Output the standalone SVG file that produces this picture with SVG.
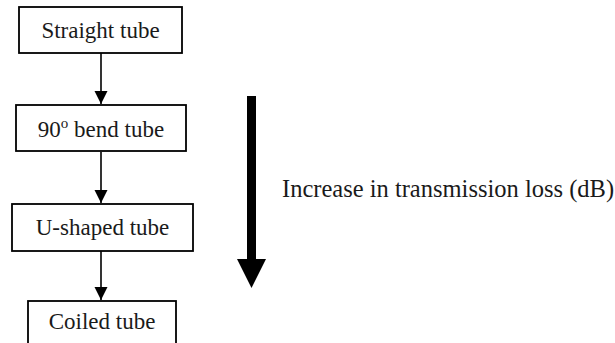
<svg xmlns="http://www.w3.org/2000/svg" width="615" height="343" viewBox="0 0 615 343">
  <style>
    .box { fill: #ffffff; stroke: #000000; stroke-width: 1.8; }
    .label { font-size: 23px; fill: #1a1a1a; text-anchor: middle; }
    .side { font-size: 24.5px; fill: #1a1a1a; }
    .link { stroke: #000000; stroke-width: 1.6; fill: none; marker-end: url(#head); }
  </style>
  <defs>
    <marker id="head" viewBox="0 0 13 15" refX="13" refY="6.5" markerWidth="13" markerHeight="15" markerUnits="userSpaceOnUse" orient="auto">
      <path d="M0,0 L13,6.5 L0,13 Z" fill="#000000"/>
    </marker>
  </defs>
  <rect width="615" height="343" fill="#ffffff"/>

  <g id="connectors">
    <line class="link" x1="101" y1="53" x2="101" y2="104"/>
    <line class="link" x1="101" y1="152" x2="101" y2="203"/>
    <line class="link" x1="101" y1="251" x2="101" y2="300"/>
  </g>

  <g font-family="DejaVu Serif, serif">
    <g id="straight-tube">
      <rect class="box" x="19" y="7" width="163" height="46"/>
      <text class="label" x="100.5" y="38" font-family="Liberation Serif, DejaVu Serif, serif">Straight tube</text>
    </g>

    <g id="bend-tube">
      <rect class="box" x="16" y="105" width="170" height="46"/>
      <text class="label" x="101" y="137" font-family="Liberation Serif, DejaVu Serif, serif">90<tspan font-size="15" dy="-9">o</tspan><tspan dy="9"> bend tube</tspan></text>
    </g>

    <g id="u-shaped-tube">
      <rect class="box" x="12" y="204" width="181" height="47"/>
      <text class="label" x="102.5" y="235" font-family="Liberation Serif, DejaVu Serif, serif">U-shaped tube</text>
    </g>

    <g id="coiled-tube">
      <rect class="box" x="28" y="301" width="148" height="50"/>
      <text class="label" x="102" y="329" font-family="Liberation Serif, DejaVu Serif, serif">Coiled tube</text>
    </g>

    <g id="trend">
      <rect x="247" y="96" width="9" height="164" fill="#000000"/>
      <path d="M237,259 L266,259 L251.5,288 Z" fill="#000000"/>
      <text class="side" x="282" y="197" font-family="Liberation Serif, DejaVu Serif, serif">Increase in transmission loss (dB)</text>
    </g>
  </g>
</svg>
